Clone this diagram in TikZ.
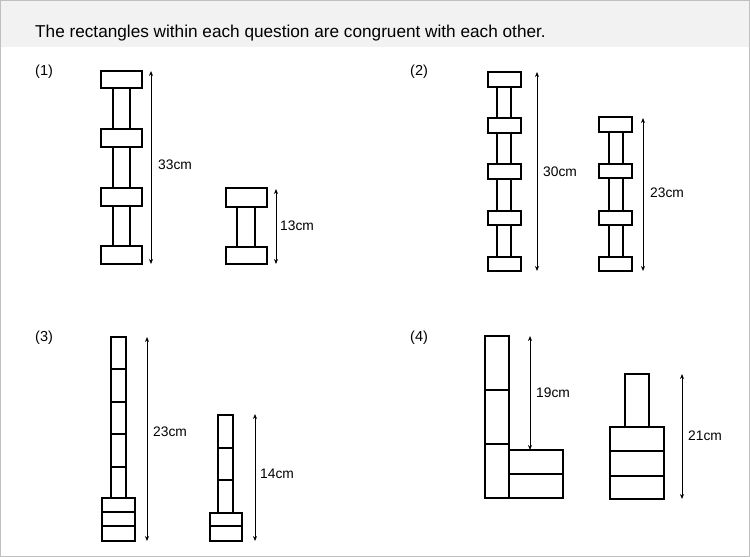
\documentclass[tikz,border=0pt]{standalone}
\usepackage{fontspec}
\setmainfont{Liberation Sans}
\usetikzlibrary{arrows.meta}
\begin{document}
\begin{tikzpicture}[x=1pt,y=-1pt,
  blk/.style={draw=black,line width=1.15pt},
  dim/.style={line width=1pt,{Stealth[length=5pt,width=4pt]}-{Stealth[length=5pt,width=4pt]}},
  lab/.style={anchor=west,inner sep=0pt,font=\fontsize{13.8}{15}\selectfont},
  qn/.style={anchor=west,inner sep=0pt,font=\fontsize{14.5}{16}\selectfont}]
\useasboundingbox (0,0) rectangle (750,557);
\fill[white] (0,0) rectangle (750,557);
\fill[black!5] (0,0) rectangle (750,47);
\draw[black!25,line width=1pt] (0.5,0.5) rectangle (749.5,556.5);
\node[qn,font=\fontsize{17.2}{20}\selectfont] (title) at (35,33) {The rectangles within each question are congruent with each other.};
\node[qn] (q1) at (35,72) {(1)};
\node[qn] (q2) at (410,72) {(2)};
\node[qn] (q3) at (35,338) {(3)};
\node[qn] (q4) at (410,338) {(4)};
% Q1
\foreach \a/\b in {88/129,147/188,206/246} \draw[blk] (113,\a) rectangle (130,\b);
\foreach \a/\b in {71/88,129/147,188/206,246/264} \draw[blk] (101,\a) rectangle (142,\b);
\coordinate (a1t) at (151,71); \coordinate (a1b) at (151,264);
\draw[dim] (a1t) -- (a1b);
\node[lab] (l1) at (158,165) {33cm};
\draw[blk] (237,207) rectangle (255,247);
\draw[blk] (226,188) rectangle (267,207);
\draw[blk] (226,247) rectangle (267,264);
\coordinate (a2t) at (276,189); \coordinate (a2b) at (276,264);
\draw[dim] (a2t) -- (a2b);
\node[lab] (l2) at (280,226) {13cm};
% Q2
\foreach \a/\b in {87/118,133/164,179/211,225/257} \draw[blk] (497,\a) rectangle (511,\b);
\foreach \a/\b in {72/87,118/133,164/179,211/225,257/271} \draw[blk] (488,\a) rectangle (521,\b);
\coordinate (a3t) at (537,72); \coordinate (a3b) at (537,271);
\draw[dim] (a3t) -- (a3b);
\node[lab] (l3) at (543,172) {30cm};
\foreach \a/\b in {132/164,178/211,225/257} \draw[blk] (609,\a) rectangle (623,\b);
\foreach \a/\b in {117/132,164/178,211/225,257/271} \draw[blk] (599,\a) rectangle (632,\b);
\coordinate (a4t) at (643,118); \coordinate (a4b) at (643,271);
\draw[dim] (a4t) -- (a4b);
\node[lab] (l4) at (650,193) {23cm};
% Q3
\draw[blk] (111,337) rectangle (126,498);
\foreach \y in {369,402,434,467} \draw[blk] (111,\y) -- (126,\y);
\draw[blk] (102,498) rectangle (135,541);
\foreach \y in {512,526} \draw[blk] (102,\y) -- (135,\y);
\coordinate (a5t) at (147,337); \coordinate (a5b) at (147,541);
\draw[dim] (a5t) -- (a5b);
\node[lab] (l5) at (153,432) {23cm};
\draw[blk] (218,415) rectangle (233,513);
\foreach \y in {448,480} \draw[blk] (218,\y) -- (233,\y);
\draw[blk] (210,513) rectangle (242,541);
\draw[blk] (210,526) -- (242,526);
\coordinate (a6t) at (255,414); \coordinate (a6b) at (255,541);
\draw[dim] (a6t) -- (a6b);
\node[lab] (l6) at (260,474) {14cm};
% Q4
\draw[blk] (485,336) rectangle (509,498);
\foreach \y in {390,444} \draw[blk] (485,\y) -- (509,\y);
\draw[blk] (509,450) rectangle (563,498);
\draw[blk] (509,474) -- (563,474);
\coordinate (a7t) at (530,336); \coordinate (a7b) at (530,450);
\draw[dim] (a7t) -- (a7b);
\node[lab] (l7) at (536,393) {19cm};
\draw[blk] (625,374) rectangle (649,427);
\draw[blk] (610,427) rectangle (664,499);
\foreach \y in {451,476} \draw[blk] (610,\y) -- (664,\y);
\coordinate (a8t) at (682,374); \coordinate (a8b) at (682,499);
\draw[dim] (a8t) -- (a8b);
\node[lab] (l8) at (688,436) {21cm};
\end{tikzpicture}
\end{document}
